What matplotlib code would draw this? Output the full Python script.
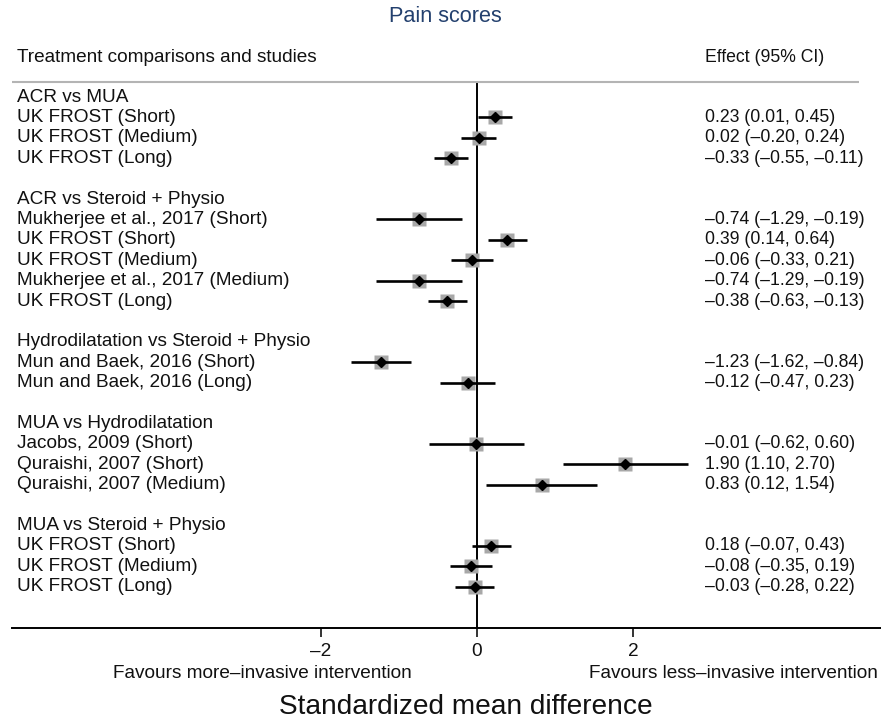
import numpy as np
import matplotlib.pyplot as plt

plt.rcParams['font.family'] = ['Liberation Sans', 'DejaVu Sans']

# rows of the forest plot, None effect = group header / blank row
labels = ["ACR vs MUA", "UK FROST (Short)", "UK FROST (Medium)", "UK FROST (Long)", "",
          "ACR vs Steroid + Physio", "Mukherjee et al., 2017 (Short)", "UK FROST (Short)",
          "UK FROST (Medium)", "Mukherjee et al., 2017 (Medium)", "UK FROST (Long)", "",
          "Hydrodilatation vs Steroid + Physio", "Mun and Baek, 2016 (Short)",
          "Mun and Baek, 2016 (Long)", "",
          "MUA vs Hydrodilatation", "Jacobs, 2009 (Short)", "Quraishi, 2007 (Short)",
          "Quraishi, 2007 (Medium)", "",
          "MUA vs Steroid + Physio", "UK FROST (Short)", "UK FROST (Medium)", "UK FROST (Long)"]
effect = [None, 0.23, 0.02, -0.33, None,
          None, -0.74, 0.39, -0.06, -0.74, -0.38, None,
          None, -1.23, -0.12, None,
          None, -0.01, 1.90, 0.83, None,
          None, 0.18, -0.08, -0.03]
lower = [None, 0.01, -0.20, -0.55, None,
         None, -1.29, 0.14, -0.33, -1.29, -0.63, None,
         None, -1.62, -0.47, None,
         None, -0.62, 1.10, 0.12, None,
         None, -0.07, -0.35, -0.28]
upper = [None, 0.45, 0.24, -0.11, None,
         None, -0.19, 0.64, 0.21, -0.19, -0.13, None,
         None, -0.84, 0.23, None,
         None, 0.60, 2.70, 1.54, None,
         None, 0.43, 0.19, 0.22]

W, H = 881, 721
fig = plt.figure(figsize=(W / 100, H / 100), dpi=100)
ax = fig.add_axes([12 / W, 1 - 628 / H, 1 - 12 / W, (628 - 82) / H])

px = 78.0          # pixels per unit
x0 = 477           # pixel of zero
xmin = (12 - x0) / px
xmax = (W - x0) / px
ax.set_xlim(xmin, xmax)
step = 20.4
ytop = (82 - 97) / step
ybot = (628 - 97) / step
ax.set_ylim(ybot, ytop)

def fmt(v):
    return ("%.2f" % v).replace("-", "\u2013")

fs = 13.7
fs_eff = 12.7
for i, lab in enumerate(labels):
    ax.text((17 - x0) / px, i, lab, fontsize=fs, va='center', ha='left', color='#111111')
    if effect[i] is None:
        continue
    ax.plot([lower[i], upper[i]], [i, i], color='black', lw=1.9, solid_capstyle='butt', zorder=3)
    ax.plot(effect[i], i, marker='s', ms=10, color='#a8a8a8', mec='none', zorder=2)
    ax.plot(effect[i], i, marker='D', ms=5.2, color='black', zorder=4)
    txt = "%s (%s, %s)" % (fmt(effect[i]), fmt(lower[i]), fmt(upper[i]))
    ax.text((705 - x0) / px, i, txt, fontsize=fs_eff, va='center', ha='left', color='#111111')

# headers
ax.text((17 - x0) / px, (57 - 97) / step, "Treatment comparisons and studies",
        fontsize=fs, va='center', ha='left', color='#111111', clip_on=False)
ax.text((705 - x0) / px, (57 - 97) / step, "Effect (95% CI)",
        fontsize=fs_eff, va='center', ha='left', color='#111111', clip_on=False)
ax.hlines(ytop, xmin, (859 - x0) / px, color='#b4b4b4', lw=1.5, clip_on=False)
ax.axvline(0, color='black', lw=1.4, zorder=1)

for s in ['top', 'left', 'right']:
    ax.spines[s].set_visible(False)
ax.spines['bottom'].set_linewidth(1.4)
ax.set_yticks([])
ax.set_xticks([-2, 0, 2])
ax.set_xticklabels(["\u20132", "0", "2"], fontsize=fs)
ax.tick_params(axis='x', length=6.5, width=1.2, pad=4, colors='#111111')

fig.text(445 / W, 1 - 17 / H, "Pain scores", fontsize=15.6, color='#23406e',
         ha='center', va='center')
fig.text(262 / W, 1 - 674 / H, "Favours more\u2013invasive intervention", fontsize=fs,
         ha='center', va='center', color='#111111')
fig.text(733 / W, 1 - 674 / H, "Favours less\u2013invasive intervention", fontsize=fs,
         ha='center', va='center', color='#111111')
fig.text(466 / W, 1 - 707 / H, "Standardized mean difference", fontsize=20.2,
         ha='center', va='center', color='#111111')

fig.savefig("out.png", dpi=100)
